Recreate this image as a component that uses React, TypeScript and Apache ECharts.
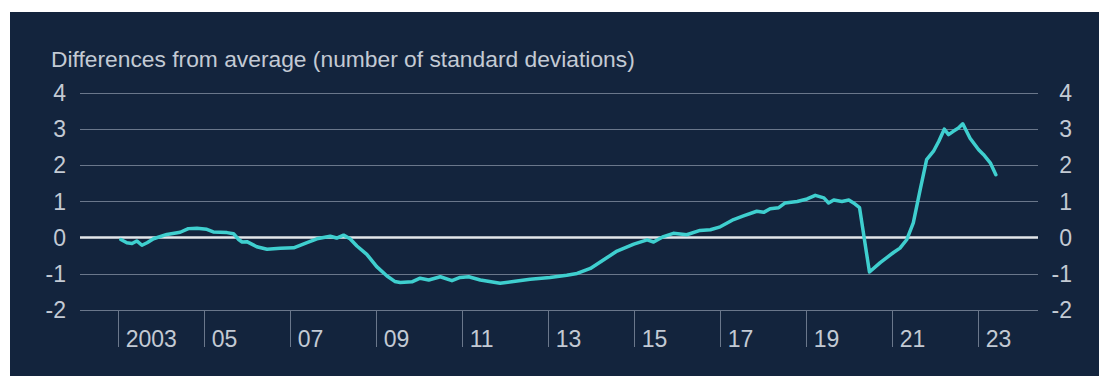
import React, { useEffect, useRef } from "react";
import * as echarts from "echarts";

const TITLE = "Differences from average (number of standard deviations)";

// decimal years (x) and values (standard deviations)
const dates: number[] = [
  2003.05, 2003.19, 2003.31, 2003.42, 2003.54, 2003.66, 2003.81, 2004.12, 2004.43, 2004.62,
  2004.82, 2005.05, 2005.2, 2005.52, 2005.67, 2005.79, 2005.87, 2005.98, 2006.21, 2006.45,
  2006.76, 2007.07, 2007.38, 2007.61, 2007.92, 2008.07, 2008.23, 2008.38, 2008.54, 2008.77,
  2009.0, 2009.24, 2009.42, 2009.55, 2009.82, 2010.01, 2010.21, 2010.48, 2010.75, 2010.94,
  2011.14, 2011.41, 2011.87, 2012.18, 2012.57, 2013.03, 2013.42, 2013.66, 2013.97, 2014.36,
  2014.59, 2014.98, 2015.29, 2015.44, 2015.67, 2015.9, 2016.21, 2016.52, 2016.76, 2016.99,
  2017.3, 2017.53, 2017.84, 2018.0, 2018.15, 2018.35, 2018.5, 2018.78, 2019.01, 2019.2,
  2019.4, 2019.51, 2019.63, 2019.82, 2019.98, 2020.09, 2020.23, 2020.33, 2020.46, 2020.71,
  2021.02, 2021.17, 2021.33, 2021.48, 2021.64, 2021.79, 2021.95, 2022.07, 2022.2, 2022.3,
  2022.41, 2022.53, 2022.63, 2022.8, 2023.0, 2023.11, 2023.27, 2023.4,
];

const values: number[] = [
  -0.05, -0.14, -0.16, -0.09, -0.21, -0.14, -0.03, 0.09, 0.15, 0.25,
  0.26, 0.23, 0.16, 0.14, 0.11, -0.05, -0.12, -0.11, -0.25, -0.32,
  -0.29, -0.28, -0.14, -0.03, 0.04, -0.01, 0.07, -0.03, -0.23, -0.46,
  -0.8, -1.06, -1.21, -1.24, -1.22, -1.12, -1.17, -1.08, -1.19, -1.1,
  -1.08, -1.17, -1.26, -1.21, -1.15, -1.1, -1.04, -0.99, -0.85, -0.55,
  -0.37, -0.18, -0.06, -0.12, 0.03, 0.12, 0.08, 0.2, 0.22, 0.3,
  0.5, 0.6, 0.73, 0.7, 0.8, 0.83, 0.96, 1.0, 1.07, 1.17,
  1.1, 0.96, 1.04, 1.0, 1.04, 0.96, 0.83, 0.05, -0.95, -0.69,
  -0.41, -0.29, -0.05, 0.41, 1.33, 2.16, 2.39, 2.66, 3.0, 2.85,
  2.94, 3.03, 3.15, 2.75, 2.43, 2.3, 2.07, 1.74,
];

const tickYears: number[] = [2003, 2005, 2007, 2009, 2011, 2013, 2015, 2017, 2019, 2021, 2023];
const tickLabels: string[] = ["2003", "05", "07", "09", "11", "13", "15", "17", "19", "21", "23"];

const FONT = "'Liberation Sans', Arial, Helvetica, sans-serif";
const BG = "#13243d";
const TEXT = "#c3cad4";
const GRID = "#6a778b";
const LINE = "#3fcfcf";

export default function App() {
  const ref = useRef<HTMLDivElement>(null);

  useEffect(() => {
    if (!ref.current) return;
    const chart = echarts.init(ref.current, undefined, { renderer: "svg" });
    const seriesData = dates.map((d, i) => [d, values[i]]);
    chart.setOption({
      animation: false,
      backgroundColor: BG,
      textStyle: { fontFamily: FONT },
      title: {
        text: TITLE,
        left: 36,
        top: 30,
        textStyle: { color: TEXT, fontSize: 22.8, fontWeight: "normal", fontFamily: FONT },
      },
      grid: { left: 70, right: 61, top: 81, bottom: 66, containLabel: false },
      xAxis: {
        type: "value",
        min: 2002.1,
        max: 2024.38,
        splitLine: { show: false },
        axisLine: { show: false, onZero: false },
        axisTick: {
          show: true,
          customValues: tickYears,
          length: 37,
          lineStyle: { color: GRID, width: 1 },
        },
        axisLabel: {
          customValues: tickYears,
          color: TEXT,
          fontSize: 23,
          fontFamily: FONT,
          align: "left",
          margin: 17,
          padding: [0, 0, 0, 7],
          formatter: (v: number) => tickLabels[tickYears.indexOf(Math.round(v))] ?? "",
        },
      },
      yAxis: [
        {
          type: "value",
          position: "left",
          min: -2,
          max: 4,
          interval: 1,
          axisLine: { show: false },
          axisTick: { show: false },
          splitLine: { show: true, lineStyle: { color: GRID, width: 1 } },
          axisLabel: { color: TEXT, fontSize: 23, fontFamily: FONT, margin: 14 },
        },
        {
          type: "value",
          position: "right",
          min: -2,
          max: 4,
          interval: 1,
          axisLine: { show: false },
          axisTick: { show: false },
          splitLine: { show: false },
          axisLabel: { color: TEXT, fontSize: 23, fontFamily: FONT, margin: 34, align: "right" },
        },
      ],
      series: [
        {
          type: "line",
          data: seriesData,
          showSymbol: false,
          symbol: "none",
          lineStyle: { color: LINE, width: 3.5, join: "round", cap: "round" },
          z: 3,
          markLine: {
            silent: true,
            symbol: "none",
            label: { show: false },
            lineStyle: { color: "#e3e6ea", width: 2.5, type: "solid" },
            data: [{ yAxis: 0 }],
            z: 2,
          },
        },
      ],
    });
    return () => chart.dispose();
  }, []);

  return (
    <div style={{ position: "fixed", left: 0, top: 0, width: 1099, height: 376, background: "#ffffff" }}>
      <div ref={ref} style={{ position: "absolute", left: 10, top: 12, width: 1089, height: 364 }} />
    </div>
  );
}
